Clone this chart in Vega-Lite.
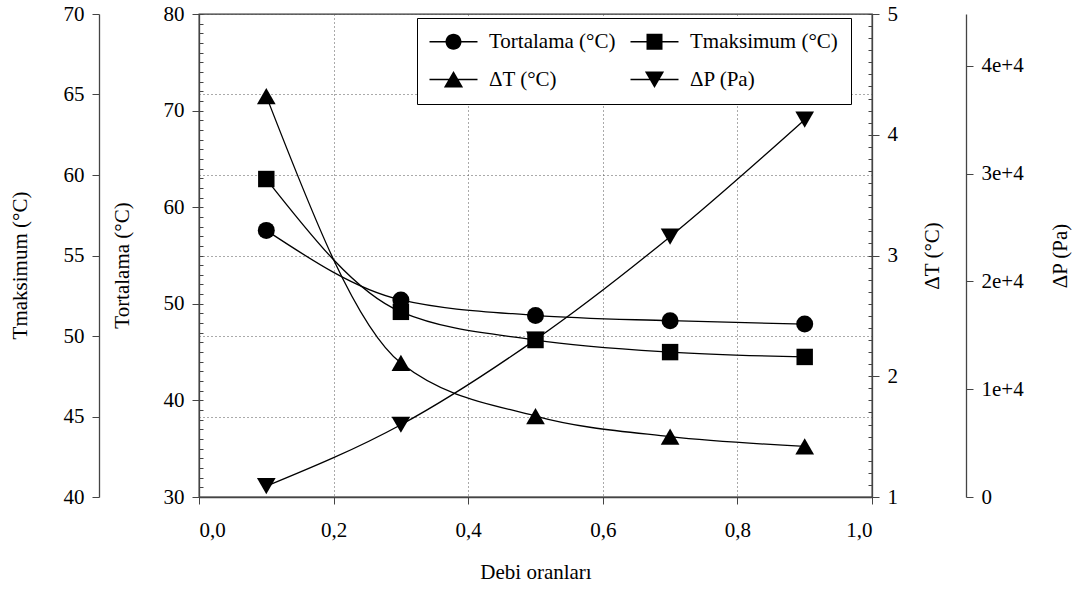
{
  "$schema": "https://vega.github.io/schema/vega-lite/v6.json",
  "width": 673,
  "height": 483,
  "autosize": {"type": "none"},
  "padding": {"left": 199, "top": 14, "right": 210, "bottom": 93},
  "background": "white",
  "datasets": {
    "d": [
      {"x": 0.1, "series": "Tortalama (°C)", "value": 57.6},
      {"x": 0.3, "series": "Tortalama (°C)", "value": 50.4},
      {"x": 0.5, "series": "Tortalama (°C)", "value": 48.8},
      {"x": 0.7, "series": "Tortalama (°C)", "value": 48.25},
      {"x": 0.9, "series": "Tortalama (°C)", "value": 47.9},
      {"x": 0.1, "series": "Tmaksimum (°C)", "value": 59.75},
      {"x": 0.3, "series": "Tmaksimum (°C)", "value": 51.5},
      {"x": 0.5, "series": "Tmaksimum (°C)", "value": 49.75},
      {"x": 0.7, "series": "Tmaksimum (°C)", "value": 49.0},
      {"x": 0.9, "series": "Tmaksimum (°C)", "value": 48.7},
      {"x": 0.1, "series": "ΔT (°C)", "value": 4.32},
      {"x": 0.3, "series": "ΔT (°C)", "value": 2.11},
      {"x": 0.5, "series": "ΔT (°C)", "value": 1.67},
      {"x": 0.7, "series": "ΔT (°C)", "value": 1.5},
      {"x": 0.9, "series": "ΔT (°C)", "value": 1.42},
      {"x": 0.1, "series": "ΔP (Pa)", "value": 1000},
      {"x": 0.3, "series": "ΔP (Pa)", "value": 6700},
      {"x": 0.5, "series": "ΔP (Pa)", "value": 14600},
      {"x": 0.7, "series": "ΔP (Pa)", "value": 24150},
      {"x": 0.9, "series": "ΔP (Pa)", "value": 35000}
    ]
  },
  "data": {"name": "d"},
  "encoding": {
    "x": {
      "field": "x",
      "type": "quantitative",
      "scale": {"domain": [0, 1], "nice": false},
      "axis": {
        "values": [0, 0.2, 0.4, 0.6, 0.8, 1],
        "labelExpr": "replace(format(datum.value, '.1f'), '.', ',')",
        "title": "Debi oranları",
        "grid": true,
        "labelPadding": 15,
        "titlePadding": 21
      }
    }
  },
  "layer": [
    {
      "transform": [{"filter": "datum.series === 'Tmaksimum (°C)'"}],
      "encoding": {
        "y": {
          "field": "value",
          "type": "quantitative",
          "scale": {"domain": [40, 70], "nice": false, "zero": false},
          "axis": {
            "orient": "left",
            "offset": 100,
            "values": [40, 45, 50, 55, 60, 65, 70],
            "grid": true,
            "title": "Tmaksimum (°C)",
            "titleX": -79,
            "titleY": 251,
            "titleAngle": 270,
            "titleBaseline": "middle",
            "titleAlign": "center"
          }
        }
      },
      "layer": [
        {"mark": {"type": "line", "interpolate": "monotone", "color": "black", "strokeWidth": 1.3}},
        {"mark": {"type": "point", "shape": "square", "filled": true, "color": "black", "opacity": 1, "size": 270}}
      ]
    },
    {
      "transform": [{"filter": "datum.series === 'Tortalama (°C)'"}],
      "encoding": {
        "y": {
          "field": "value",
          "type": "quantitative",
          "scale": {"domain": [30, 80], "nice": false, "zero": false},
          "axis": {
            "orient": "left",
            "offset": 0,
            "values": [30, 40, 50, 60, 70, 80],
            "grid": false,
            "title": "Tortalama (°C)",
            "titleX": -77,
            "titleY": 251,
            "titleAngle": 270,
            "titleBaseline": "middle",
            "titleAlign": "center"
          }
        }
      },
      "layer": [
        {"mark": {"type": "line", "interpolate": "monotone", "color": "black", "strokeWidth": 1.3}},
        {"mark": {"type": "point", "shape": "circle", "filled": true, "color": "black", "opacity": 1, "size": 289}}
      ]
    },
    {
      "transform": [{"filter": "datum.series === 'ΔT (°C)'"}],
      "encoding": {
        "y": {
          "field": "value",
          "type": "quantitative",
          "scale": {"domain": [1, 5], "nice": false, "zero": false},
          "axis": {
            "orient": "right",
            "offset": 0,
            "values": [1, 2, 3, 4, 5],
            "grid": false,
            "title": "ΔT (°C)",
            "titleX": 60,
            "titleY": 241.5,
            "titleAngle": 270,
            "titleBaseline": "middle",
            "titleAlign": "center"
          }
        }
      },
      "layer": [
        {"mark": {"type": "line", "interpolate": "monotone", "color": "black", "strokeWidth": 1.3}},
        {"mark": {"type": "point", "shape": "triangle-up", "filled": true, "color": "black", "opacity": 1, "size": 350}}
      ]
    },
    {
      "transform": [{"filter": "datum.series === 'ΔP (Pa)'"}],
      "encoding": {
        "y": {
          "field": "value",
          "type": "quantitative",
          "scale": {"domain": [0, 44800], "nice": false, "zero": false},
          "axis": {
            "orient": "right",
            "offset": 94,
            "values": [0, 10000, 20000, 30000, 40000],
            "labelExpr": "datum.value == 0 ? '0' : format(datum.value / 10000, 'd') + 'e+4'",
            "grid": false,
            "title": "ΔP (Pa)",
            "titleX": 94,
            "titleY": 241.5,
            "titleAngle": 270,
            "titleBaseline": "middle",
            "titleAlign": "center"
          }
        }
      },
      "layer": [
        {"mark": {"type": "line", "interpolate": "monotone", "color": "black", "strokeWidth": 1.3}},
        {"mark": {"type": "point", "shape": "triangle-down", "filled": true, "color": "black", "opacity": 1, "size": 350}}
      ]
    },
    {
      "transform": [{"filter": "datum.series === 'Tortalama (°C)'"}],
      "mark": {"type": "point", "opacity": 0},
      "encoding": {
        "y": {
          "field": "value",
          "type": "quantitative",
          "scale": {"domain": [30, 80], "nice": false, "zero": false},
          "axis": {
            "orient": "left",
            "offset": -4,
            "values": [30,31,32,33,34,35,36,37,38,39,40,41,42,43,44,45,46,47,48,49,50,51,52,53,54,55,56,57,58,59,60,61,62,63,64,65,66,67,68,69,70,71,72,73,74,75,76,77,78,79,80],
            "labels": false,
            "domain": false,
            "tickSize": 4,
            "grid": false,
            "title": null
          }
        }
      }
    },
    {
      "transform": [{"filter": "datum.series === 'ΔT (°C)'"}],
      "mark": {"type": "point", "opacity": 0},
      "encoding": {
        "y": {
          "field": "value",
          "type": "quantitative",
          "scale": {"domain": [1, 5], "nice": false, "zero": false},
          "axis": {
            "orient": "right",
            "offset": -4,
            "values": [1,1.1,1.2,1.3,1.4,1.5,1.6,1.7,1.8,1.9,2,2.1,2.2,2.3,2.4,2.5,2.6,2.7,2.8,2.9,3,3.1,3.2,3.3,3.4,3.5,3.6,3.7,3.8,3.9,4,4.1,4.2,4.3,4.4,4.5,4.6,4.7,4.8,4.9,5],
            "labels": false,
            "domain": false,
            "tickSize": 4,
            "grid": false,
            "title": null
          }
        }
      }
    },
    {
      "mark": {"type": "point", "opacity": 0, "filled": true, "color": "black"},
      "encoding": {
        "y": {"field": "value", "type": "quantitative", "axis": null},
        "shape": {
          "field": "series",
          "type": "nominal",
          "scale": {
            "domain": ["Tortalama (°C)", "Tmaksimum (°C)", "ΔT (°C)", "ΔP (Pa)"],
            "range": [
              "M-1.375,-0.08H4.625V0.08H-1.375ZM2.625,0A1,1,0,1,1,0.625,0A1,1,0,1,1,2.625,0Z",
              "M-1.375,-0.08H4.625V0.08H-1.375ZM0.625,-1H2.625V1H0.625Z",
              "M-1.375,-0.08H4.625V0.08H-1.375ZM1.625,-1.05L2.825,1H0.425Z",
              "M-1.375,-0.08H4.625V0.08H-1.375ZM1.625,1.05L0.425,-1H2.825Z"
            ]
          },
          "legend": {
            "orient": "none",
            "legendX": 218,
            "legendY": 4,
            "columns": 2,
            "direction": "horizontal",
            "title": null,
            "symbolSize": 256,
            "labelOffset": 38,
            "columnPadding": 11,
            "rowPadding": 15,
            "padding": 13,
            "strokeColor": "black",
            "fillColor": "white",
            "cornerRadius": 0,
            "labelFont": "Liberation Serif",
            "labelFontSize": 21,
            "labelColor": "black",
            "labelLimit": 400,
            "symbolFillColor": "black",
            "symbolOpacity": 1
          }
        }
      }
    }
  ],
  "resolve": {"scale": {"y": "independent", "shape": "independent"}},
  "config": {
    "font": "Liberation Serif",
    "view": {"stroke": "#333", "strokeWidth": 1.3},
    "axis": {
      "labelFont": "Liberation Serif",
      "titleFont": "Liberation Serif",
      "labelFontSize": 21,
      "titleFontSize": 21,
      "titleFontWeight": "normal",
      "labelColor": "black",
      "titleColor": "black",
      "domainColor": "#444",
      "domainWidth": 1.3,
      "tickColor": "#444",
      "tickSize": 7,
      "labelPadding": 8,
      "gridColor": "#555",
      "gridDash": [1, 3],
      "gridWidth": 1,
      "grid": false
    }
  }
}
